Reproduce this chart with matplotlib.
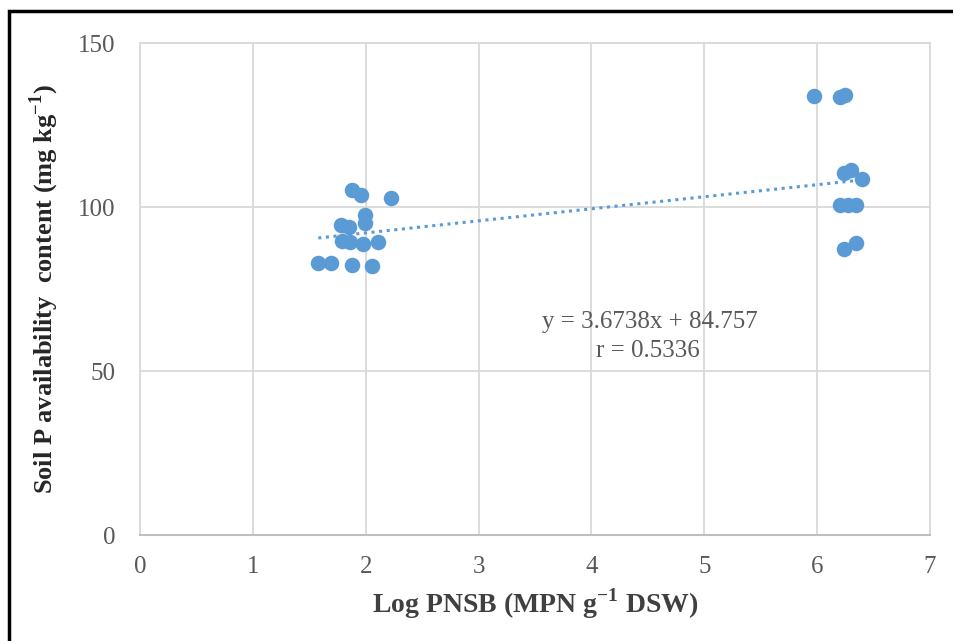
import matplotlib.pyplot as plt
import numpy as np
from matplotlib.patches import Rectangle

plt.rcParams["font.family"] = ["Liberation Serif", "DejaVu Serif"]
plt.rcParams["mathtext.fontset"] = "custom"
plt.rcParams["mathtext.rm"] = "Liberation Serif"
plt.rcParams["mathtext.bf"] = "Liberation Serif:bold"

# Log PNSB values and soil P contents
log_pnsb = [1.58, 1.69, 1.88, 1.96, 2.22, 1.99, 1.99, 1.78, 1.85,
            1.79, 1.86, 1.98, 2.11, 1.88, 2.06,
            5.97, 6.20, 6.25, 6.24, 6.30, 6.40, 6.20, 6.27, 6.34, 6.24, 6.34]
soil_p = [82.9, 82.9, 105.3, 103.8, 102.6, 97.6, 95.2, 94.5, 94.0,
          89.6, 89.4, 88.7, 89.4, 82.4, 81.9,
          133.8, 133.4, 134.2, 110.3, 111.3, 108.4, 100.6, 100.6, 100.6, 87.2, 88.9]

slope, intercept, r_value = 3.6738, 84.757, 0.5336

grid_c = "#d9d9d9"
text_c = "#595959"
blue = "#5b9bd5"

fig = plt.figure(figsize=(9.54, 6.41), dpi=100)
ax = fig.add_axes([140 / 954, 1 - 535 / 641, 790 / 954, 492 / 641])

ax.scatter(log_pnsb, soil_p, s=125, color=blue, zorder=3, linewidths=0)

xs = np.array([min(log_pnsb), max(log_pnsb)])
ax.plot(xs, slope * xs + intercept, linestyle=(0, (1, 1.5)), color=blue,
        linewidth=2.2, zorder=2)

ax.text(4.52, 65, f"y = {slope}x + {intercept}", ha="center", va="center",
        fontsize=18, color=text_c)
ax.text(4.50, 56.2, f"r = {r_value}", ha="center", va="center",
        fontsize=18, color=text_c)

ax.set_xlim(0, 7)
ax.set_ylim(0, 150)
ax.set_xticks(range(0, 8))
ax.set_yticks([0, 50, 100, 150])
ax.grid(True, color=grid_c, linewidth=1.3)
ax.set_axisbelow(True)
for side in ["top", "right", "left"]:
    ax.spines[side].set_color(grid_c)
    ax.spines[side].set_linewidth(1.3)
ax.spines["bottom"].set_color("#bfbfbf")
ax.spines["bottom"].set_linewidth(1.5)
ax.tick_params(length=0, labelsize=18, labelcolor=text_c)
ax.tick_params(axis="y", pad=18)
ax.tick_params(axis="x", pad=15)

ax.set_xlabel("Log PNSB (MPN g$^{\\mathbf{-1}}$ DSW)", fontsize=20,
              fontweight="bold", color="#404040", labelpad=6)
ax.set_ylabel("Soil P availability  content (mg kg$^{\\mathbf{-1}}$)",
              fontsize=19, fontweight="bold", color="#262626", labelpad=12)

# black frame around the chart (cropped at right and bottom)
fig.patches.append(Rectangle((9 / 954, -0.05), 1.1, 1 - 11 / 641 + 0.05,
                             transform=fig.transFigure, fill=False,
                             edgecolor="black", linewidth=2.5))

fig.savefig("out.png", dpi=100)
